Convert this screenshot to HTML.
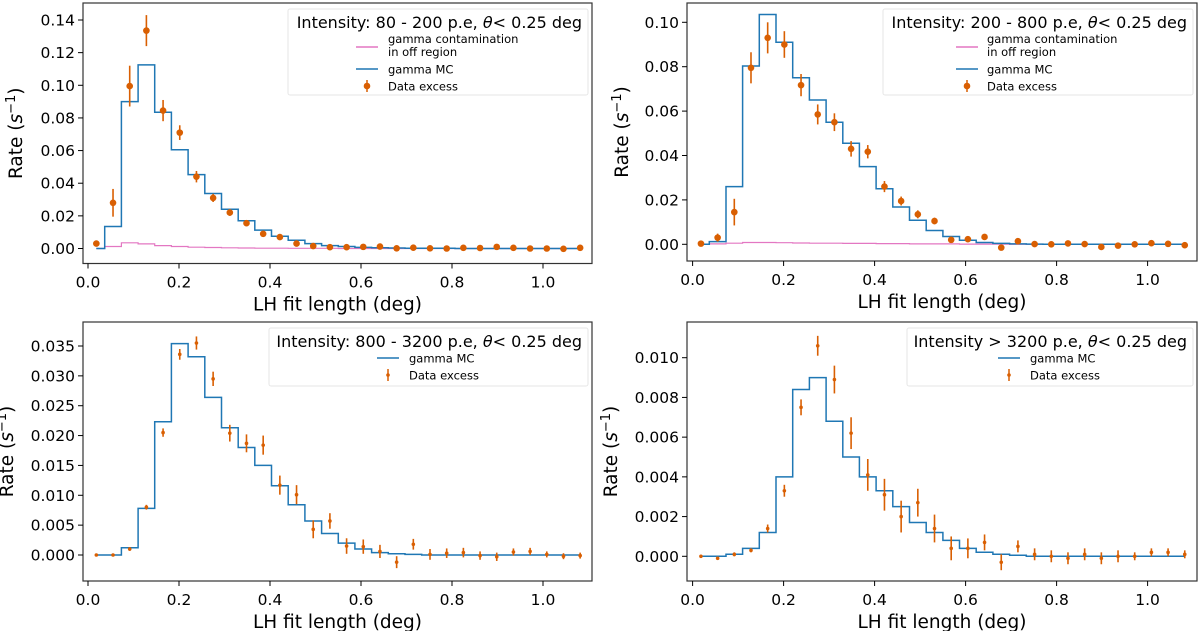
<!DOCTYPE html>
<html><head><meta charset="utf-8">
<style>
html,body{margin:0;padding:0;background:#fff;}
svg{display:block;font-family:"DejaVu Sans","Liberation Sans",sans-serif;}
</style></head>
<body>
<svg id="fig" width="1200" height="631" viewBox="0 0 1200 631" xmlns="http://www.w3.org/2000/svg"></svg>
<script>
const xTicks = [0.0, 0.2, 0.4, 0.6, 0.8, 1.0];
const xTickLabels = ["0.0","0.2","0.4","0.6","0.8","1.0"];
const binWidth = 1.1/30;

const p1Title = "Intensity: 80 - 200 p.e, ";
const p1Mc = [0,0.0135,0.090,0.1125,0.0835,0.0605,0.0453,0.0337,0.024,0.017,0.0113,0.0075,0.005,0.003,0.0018,0.0012,0.0007,0.0005,0.0003,0.0002,0.0001,0.0001,0,0,0,0,0,0,0,0];
const p1Data = [0.003,0.028,0.0995,0.1335,0.0845,0.071,0.044,0.031,0.022,0.0155,0.009,0.007,0.003,0.0015,0.0008,0.0008,0.001,0.0012,0.0001,0.0005,0.0001,0,0.0004,0.0003,0.001,0.0004,0,0,-0.0002,0.0004];
const p1Err = [0.0012,0.0085,0.0125,0.0095,0.0065,0.0045,0.0035,0.0025,0.002,0.0015,0.0012,0.001,0.001,0.0008,0.0008,0.0008,0.0008,0.0008,0.0007,0.0007,0.0007,0.0007,0.0007,0.0007,0.0007,0.0007,0.0007,0.0007,0.0007,0.0007];
const p1Contam = [0,0.0012,0.0035,0.0028,0.0018,0.0012,0.0008,0.0006,0.0004,0.0003,0.0002,0.0002,0.0001,0.0001,0.0001,0,0,0,0,0,0,0,0,0,0,0,0,0,0,0];
const p1YTicks = [0,0.02,0.04,0.06,0.08,0.10,0.12,0.14];
const p1YLabels = ["0.00","0.02","0.04","0.06","0.08","0.10","0.12","0.14"];

const p2Title = "Intensity: 200 - 800 p.e, ";
const p2Mc = [0,0.0012,0.026,0.0803,0.1035,0.091,0.075,0.065,0.055,0.0455,0.035,0.025,0.0168,0.0108,0.0062,0.0035,0.0018,0.0008,0.0004,0.0002,0.0001,0,0,0,0,0,0,0,0,0];
const p2Data = [0.0003,0.003,0.0145,0.0795,0.093,0.090,0.0717,0.0585,0.055,0.043,0.0417,0.026,0.0195,0.0135,0.0105,0.002,0.0023,0.0033,-0.0015,0.0014,0.0001,0,0.0004,0.0001,-0.0012,-0.0006,0,0.0005,0.0002,-0.0004];
const p2Err = [0.0008,0.0018,0.006,0.007,0.007,0.006,0.005,0.0045,0.004,0.0035,0.003,0.0025,0.002,0.0018,0.0015,0.0012,0.0012,0.0012,0.001,0.001,0.001,0.001,0.001,0.001,0.001,0.001,0.001,0.001,0.001,0.001];
const p2Contam = [0,0.0002,0.0005,0.0008,0.0008,0.0007,0.0006,0.0005,0.0005,0.0004,0.0004,0.0003,0.0003,0.0002,0.0002,0.0002,0.0001,0.0001,0.0001,0,0,0,0,0,0,0,0,0,0,0];
const p2YTicks = [0,0.02,0.04,0.06,0.08,0.10];
const p2YLabels = ["0.00","0.02","0.04","0.06","0.08","0.10"];

const p3Title = "Intensity: 800 - 3200 p.e, ";
const p3Mc = [0,0,0.0012,0.0078,0.0223,0.0354,0.0332,0.0264,0.0213,0.018,0.015,0.0116,0.0084,0.0057,0.0036,0.002,0.001,0.0004,0.0002,0.0001,0,0,0,0,0,0,0,0,0,0];
const p3Data = [0,0,0.001,0.008,0.0205,0.0336,0.0355,0.0295,0.0204,0.0187,0.0184,0.0117,0.0101,0.0043,0.0057,0.0015,0.0014,0.0006,-0.0012,0.0018,0.0001,0.0003,0.0004,-0.0001,-0.0003,0.0005,0.0006,0.0001,-0.0002,-0.0001];
const p3Err = [0.0002,0.0002,0.0003,0.0004,0.0007,0.0009,0.0011,0.0012,0.0014,0.0015,0.0016,0.0016,0.0016,0.0015,0.0013,0.0013,0.0012,0.0011,0.001,0.0009,0.0009,0.0008,0.0008,0.0007,0.0007,0.0006,0.0006,0.0005,0.0005,0.0005];
const p3YTicks = [0,0.005,0.010,0.015,0.020,0.025,0.030,0.035];
const p3YLabels = ["0.000","0.005","0.010","0.015","0.020","0.025","0.030","0.035"];

const p4Title = "Intensity > 3200 p.e, ";
const p4Mc = [0,0,0.0001,0.0004,0.0012,0.004,0.0084,0.009,0.0068,0.005,0.004,0.0033,0.0025,0.0017,0.0012,0.0008,0.0004,0.0002,0.0001,0.00005,0,0,0,0,0,0,0,0,0,0];
const p4Data = [0,-0.0001,0.0001,0.0003,0.0014,0.0033,0.0075,0.0106,0.0089,0.0062,0.0041,0.0031,0.002,0.0027,0.0014,0.0004,0.0004,0.0007,-0.0003,0.0005,0.0001,0,-0.0001,0.0001,-0.0001,0,0,0.0002,0.0002,0.0001];
const p4Err = [0.00005,0.00005,0.0001,0.0001,0.0002,0.0003,0.0004,0.0005,0.0007,0.0008,0.0008,0.0008,0.0008,0.0007,0.0007,0.0006,0.0005,0.0004,0.0004,0.0003,0.0003,0.0003,0.0003,0.0003,0.0003,0.0003,0.0002,0.0002,0.0002,0.0002];
const p4YTicks = [0,0.002,0.004,0.006,0.008,0.010];
const p4YLabels = ["0.000","0.002","0.004","0.006","0.008","0.010"];

const NS = "http://www.w3.org/2000/svg";
const svg = document.getElementById("fig");
function mk(tag, attrs, parent, text){
  const e = document.createElementNS(NS, tag);
  for (const k in attrs) e.setAttribute(k, attrs[k]);
  if (text !== undefined) e.textContent = text;
  (parent||svg).appendChild(e);
  return e;
}

function panel(cfg){
  const g = mk("g", {});
  
  
  const xs = v => cfg.x0 + v*(cfg.x1 - cfg.x0);
  const ys = v => cfg.yz + v/cfg.ytopVal*(cfg.ytop - cfg.yz);
  const fr = mk("rect", {x:cfg.L, y:cfg.T, width:cfg.R-cfg.L, height:cfg.B-cfg.T, fill:"none", stroke:"#333", "stroke-width":1.2}, g);
  
  
  xTicks.forEach((t,i)=>{
    const X = xs(t);
    mk("line",{x1:X,x2:X,y1:cfg.B,y2:cfg.B+5,stroke:"#000"},g);
    const tl = mk("text",{x:X,y:cfg.B+24,"text-anchor":"middle","font-size":15.5,fill:"#000"},g,xTickLabels[i]);
    
    
  });
  cfg.yTicks.forEach((t,i)=>{
    const Y = ys(t);
    mk("line",{x1:cfg.L-5,x2:cfg.L,y1:Y,y2:Y,stroke:"#000"},g);
    const tl = mk("text",{x:cfg.L-8,y:Y+5.5,"text-anchor":"end","font-size":15.5,fill:"#000"},g,cfg.yLabels[i]);
    
    
  });
  const xl = mk("text",{x:(cfg.L+cfg.R)/2,y:cfg.B+47,"text-anchor":"middle","font-size":18.5,fill:"#000"},g,"LH fit length (deg)");
  
  
  const yx = cfg.ylabX, yy = (cfg.T+cfg.B)/2;
  const yl = mk("text",{x:yx,y:yy,"text-anchor":"middle","font-size":18.5,fill:"#000",transform:`rotate(-90 ${yx} ${yy})`},g);
  
  
  yl.appendChild(document.createTextNode("Rate ("));
  mk("tspan",{"font-style":"italic"},yl,"s");
  mk("tspan",{dy:-7,"font-size":13},yl,"−1");
  mk("tspan",{dy:7},yl,")");

  function stepPath(vals){
    let d = "";
    vals.forEach((v,i)=>{
      const a = i===0 ? xs(binWidth/2) : xs(i*binWidth);
      const b = i===vals.length-1 ? xs((i+0.5)*binWidth) : xs((i+1)*binWidth);
      d += (i===0?"M":"L") + a.toFixed(1)+","+ys(v).toFixed(1)+" L"+b.toFixed(1)+","+ys(v).toFixed(1)+" ";
    });
    return d;
  }
  if (cfg.contam){
    const cp = mk("path",{d:stepPath(cfg.contam),fill:"none",stroke:"#e377c2","stroke-width":1.2},g);
    
    
  }
  const mp = mk("path",{d:stepPath(cfg.mc),fill:"none",stroke:"#1f77b4","stroke-width":1.5},g);
  
  
  cfg.data.forEach((v,i)=>{
    const X = xs((i+0.5)*binWidth);
    const eb = mk("line",{x1:X,x2:X,y1:ys(v-cfg.err[i]),y2:ys(v+cfg.err[i]),stroke:"#d95f02","stroke-width":1.6},g);
    
    
    const pt = mk("circle",{cx:X,cy:ys(v),r:cfg.mr,fill:"#d95f02"},g);
    
    
  });
  const lg = mk("g",{},g);
  
  
  mk("rect",{x:cfg.lgX,y:cfg.lgY,width:cfg.R-4-cfg.lgX,height:cfg.lgH,fill:"#fff",stroke:"#e6e6e6",rx:2},lg);
  const tt = mk("text",{x:cfg.R-10,y:cfg.lgY+19,"text-anchor":"end","font-size":16,fill:"#000"},lg,cfg.title);
  
  
  mk("tspan",{"font-style":"italic"},tt,"θ");
  tt.appendChild(document.createTextNode("<  0.25 deg"));
  const hx = cfg.lgHx, tx = cfg.lgTx;
  let y;
  if (cfg.contam){
    y = cfg.lgY + 38;
    mk("line",{x1:hx,x2:hx+22,y1:y,y2:y,stroke:"#e377c2","stroke-width":1.5},lg);
    const t1 = mk("text",{x:tx,y:y-4,"font-size":11.5,fill:"#000"},lg,"gamma contamination");
    
    
    mk("text",{x:tx,y:y+9,"font-size":11.5,fill:"#000"},lg,"in off region");
    y += 22;
  } else { y = cfg.lgY + 30; }
  mk("line",{x1:hx,x2:hx+22,y1:y,y2:y,stroke:"#1f77b4","stroke-width":1.5},lg);
  const t2 = mk("text",{x:tx,y:y+4.5,"font-size":11.5,fill:"#000"},lg,"gamma MC");
  
  
  y += 17;
  mk("line",{x1:hx+11,x2:hx+11,y1:y-6,y2:y+6,stroke:"#d95f02","stroke-width":1.5},lg);
  mk("circle",{cx:hx+11,cy:y,r:cfg.mr,fill:"#d95f02"},lg);
  const t3 = mk("text",{x:tx,y:y+4.5,"font-size":11.5,fill:"#000"},lg,"Data excess");
  
  
}

panel({name:"panel-80-200",L:83,R:592,T:3,B:263.5,x0:88,x1:543,yz:248.5,ytop:20,ytopVal:0.14,
  yTicks:p1YTicks,yLabels:p1YLabels,mc:p1Mc,data:p1Data,err:p1Err,contam:p1Contam,title:p1Title,mr:3.3,
  lgX:288,lgY:9,lgH:86,lgHx:356,lgTx:388,ylabX:22});
panel({name:"panel-200-800",L:687,R:1197,T:3,B:261,x0:692.6,x1:1147.6,yz:244.3,ytop:22.3,ytopVal:0.10,
  yTicks:p2YTicks,yLabels:p2YLabels,mc:p2Mc,data:p2Data,err:p2Err,contam:p2Contam,title:p2Title,mr:3.3,
  lgX:883,lgY:9,lgH:86,lgHx:956,lgTx:987,ylabX:628});
panel({name:"panel-800-3200",L:83,R:592,T:322,B:581,x0:88,x1:543,yz:555,ytop:346,ytopVal:0.035,
  yTicks:p3YTicks,yLabels:p3YLabels,mc:p3Mc,data:p3Data,err:p3Err,contam:null,title:p3Title,mr:1.8,
  lgX:269,lgY:328,lgH:58,lgHx:377,lgTx:409,ylabX:13});
panel({name:"panel-above-3200",L:687,R:1197,T:322,B:581,x0:692.6,x1:1147.6,yz:556.3,ytop:357.7,ytopVal:0.010,
  yTicks:p4YTicks,yLabels:p4YLabels,mc:p4Mc,data:p4Data,err:p4Err,contam:null,title:p4Title,mr:1.8,
  lgX:907,lgY:328,lgH:58,lgHx:998,lgTx:1030,ylabX:617});
</script>
</body></html>
